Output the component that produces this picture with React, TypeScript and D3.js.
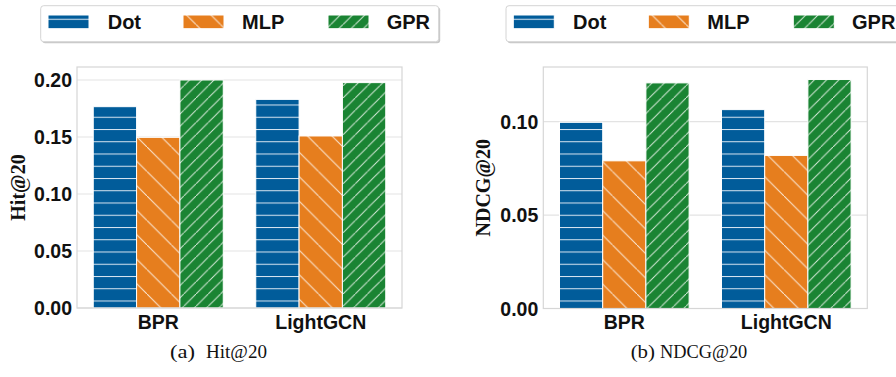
import React from "react";
import * as d3 from "d3";

const categories = ["BPR", "LightGCN"];
const methods = ["Dot", "MLP", "GPR"];
const hitValues = [
  [0.1766, 0.1497, 0.2],
  [0.183, 0.1509, 0.1977],
];
const ndcgValues = [
  [0.0996, 0.079, 0.1207],
  [0.1064, 0.0819, 0.1225],
];
const hitTicks = [0, 0.05, 0.1, 0.15, 0.2];
const ndcgTicks = [0, 0.05, 0.1];

const colors = ["#015c9a", "#e67e1e", "#1a8433"];
const patternIds = ["hatchDot", "hatchMlp", "hatchGpr"];

const SANS = "'Liberation Sans', Arial, Helvetica, sans-serif";
const SERIF = "'Liberation Serif', 'Times New Roman', Times, serif";

type Caption = { label: string; labelX: number; labelW: number; name: string; nameX: number; nameW: number };

type PanelProps = {
  x0: number;
  x1: number;
  yTop: number;
  yBottom: number;
  yMax: number;
  values: number[][];
  ticks: number[];
  ylabel: string;
  ylabelX: number;
  caption: Caption;
};

function Panel(p: PanelProps) {
  const x = d3.scaleLinear().domain([-0.5, 1.5]).range([p.x0, p.x1]);
  const y = d3.scaleLinear().domain([0, p.yMax]).range([p.yBottom, p.yTop]);
  const bw = 0.8 / 3;
  const c = p.caption;
  return (
    <g>
      {p.ticks.map((t) => (
        <line
          key={"g" + t}
          x1={p.x0}
          x2={p.x1}
          y1={y(t)}
          y2={y(t)}
          stroke="#e3e3e3"
          strokeWidth={1.2}
        />
      ))}
      {categories.map((cat, ci) =>
        methods.map((m, mi) => {
          const left = x(ci + (mi - 1) * bw - bw / 2);
          const right = x(ci + (mi - 1) * bw + bw / 2);
          const top = y(p.values[ci][mi]);
          return (
            <rect
              key={cat + m}
              x={left}
              y={top}
              width={right - left}
              height={y(0) - top}
              fill={`url(#${patternIds[mi]})`}
              stroke="#ffffff"
              strokeWidth={1}
            />
          );
        })
      )}
      <rect
        x={p.x0}
        y={p.yTop}
        width={p.x1 - p.x0}
        height={p.yBottom - p.yTop}
        fill="none"
        stroke="#d6d6d6"
        strokeWidth={1.2}
      />
      {p.ticks.map((t) => (
        <text
          key={"t" + t}
          x={p.x0 - 5}
          y={y(t)}
          textAnchor="end"
          dominantBaseline="central"
          fontFamily={SANS}
          fontWeight="bold"
          fontSize={19.5}
          fill="#111"
        >
          {t.toFixed(2)}
        </text>
      ))}
      {categories.map((cat, ci) => (
        <text
          key={"c" + cat}
          x={x(ci)}
          y={329}
          textAnchor="middle"
          fontFamily={SANS}
          fontWeight="bold"
          fontSize={19.5}
          fill="#111"
        >
          {cat}
        </text>
      ))}
      <text
        transform={`translate(${p.ylabelX},${(p.yTop + p.yBottom) / 2}) rotate(-90)`}
        textAnchor="middle"
        dominantBaseline="central"
        fontFamily={SERIF}
        fontWeight="bold"
        fontSize={20}
        fill="#111"
      >
        {p.ylabel}
      </text>
      <text
        x={c.labelX}
        y={357.5}
        textLength={c.labelW}
        lengthAdjust="spacingAndGlyphs"
        fontFamily={SERIF}
        fontSize={18.5}
        fill="#111"
      >
        {c.label}
      </text>
      <text
        x={c.nameX}
        y={357.5}
        textLength={c.nameW}
        lengthAdjust="spacingAndGlyphs"
        fontFamily={SERIF}
        fontSize={18.5}
        fill="#111"
      >
        {c.name}
      </text>
    </g>
  );
}

function Legend({ left }: { left: number }) {
  const top = 5.7;
  const patchOffsets = [7.3, 142.3, 287.3];
  const textOffsets = [67, 201.3, 346];
  return (
    <g>
      <rect x={left + 1.5} y={top + 1.5} width={398} height={36} rx={3} fill="#c8c8c8" />
      <rect
        x={left}
        y={top}
        width={398}
        height={36}
        rx={3}
        fill="#ffffff"
        stroke="#d4d4d4"
        strokeWidth={1}
      />
      {methods.map((m, i) => (
        <g key={m}>
          <rect
            x={left + patchOffsets[i]}
            y={15}
            width={41}
            height={13.7}
            fill={`url(#${patternIds[i]})`}
            stroke="#ffffff"
            strokeWidth={1}
          />
          <text
            x={left + textOffsets[i]}
            y={29.2}
            fontFamily={SANS}
            fontWeight="bold"
            fontSize={20}
            fill="#111"
          >
            {m}
          </text>
        </g>
      ))}
    </g>
  );
}

export default function App() {
  const s = 12.25;
  const s2 = 24.5;
  return (
    <svg
      width={896}
      height={377}
      style={{ position: "absolute", left: 0, top: 0, background: "#fff" }}
    >
      <defs>
        <pattern id="hatchDot" patternUnits="userSpaceOnUse" width={s} height={s} y={7 - 0.5}>
          <rect width={s} height={s} fill={colors[0]} />
          <line x1={0} x2={s} y1={0.5} y2={0.5} stroke="#d9e6f2" strokeWidth={1} />
        </pattern>
        <pattern id="hatchMlp" patternUnits="userSpaceOnUse" width={s2} height={s2}>
          <rect width={s2} height={s2} fill={colors[1]} />
          <line x1={-2} y1={-2} x2={s2 + 2} y2={s2 + 2} stroke="#fbe6d2" strokeWidth={1} />
        </pattern>
        <pattern id="hatchGpr" patternUnits="userSpaceOnUse" width={s} height={s}>
          <rect width={s} height={s} fill={colors[2]} />
          <line x1={-2} y1={s + 2} x2={s + 2} y2={-2} stroke="#d6ead9" strokeWidth={1} />
        </pattern>
      </defs>
      <rect width={896} height={377} fill="#fff" />
      <Legend left={40.7} />
      <Legend left={506} />
      <Panel
        x0={77}
        x1={402}
        yTop={67}
        yBottom={308}
        yMax={0.2114}
        values={hitValues}
        ticks={hitTicks}
        ylabel="Hit@20"
        ylabelX={18}
        caption={{ label: "(a)", labelX: 170, labelW: 25, name: "Hit@20", nameX: 206, nameW: 61 }}
      />
      <Panel
        x0={543.3}
        x1={867.3}
        yTop={67}
        yBottom={308.5}
        yMax={0.1292}
        values={ndcgValues}
        ticks={ndcgTicks}
        ylabel="NDCG@20"
        ylabelX={483}
        caption={{ label: "(b)", labelX: 630.7, labelW: 24.3, name: "NDCG@20", nameX: 660, nameW: 87.3 }}
      />
    </svg>
  );
}
